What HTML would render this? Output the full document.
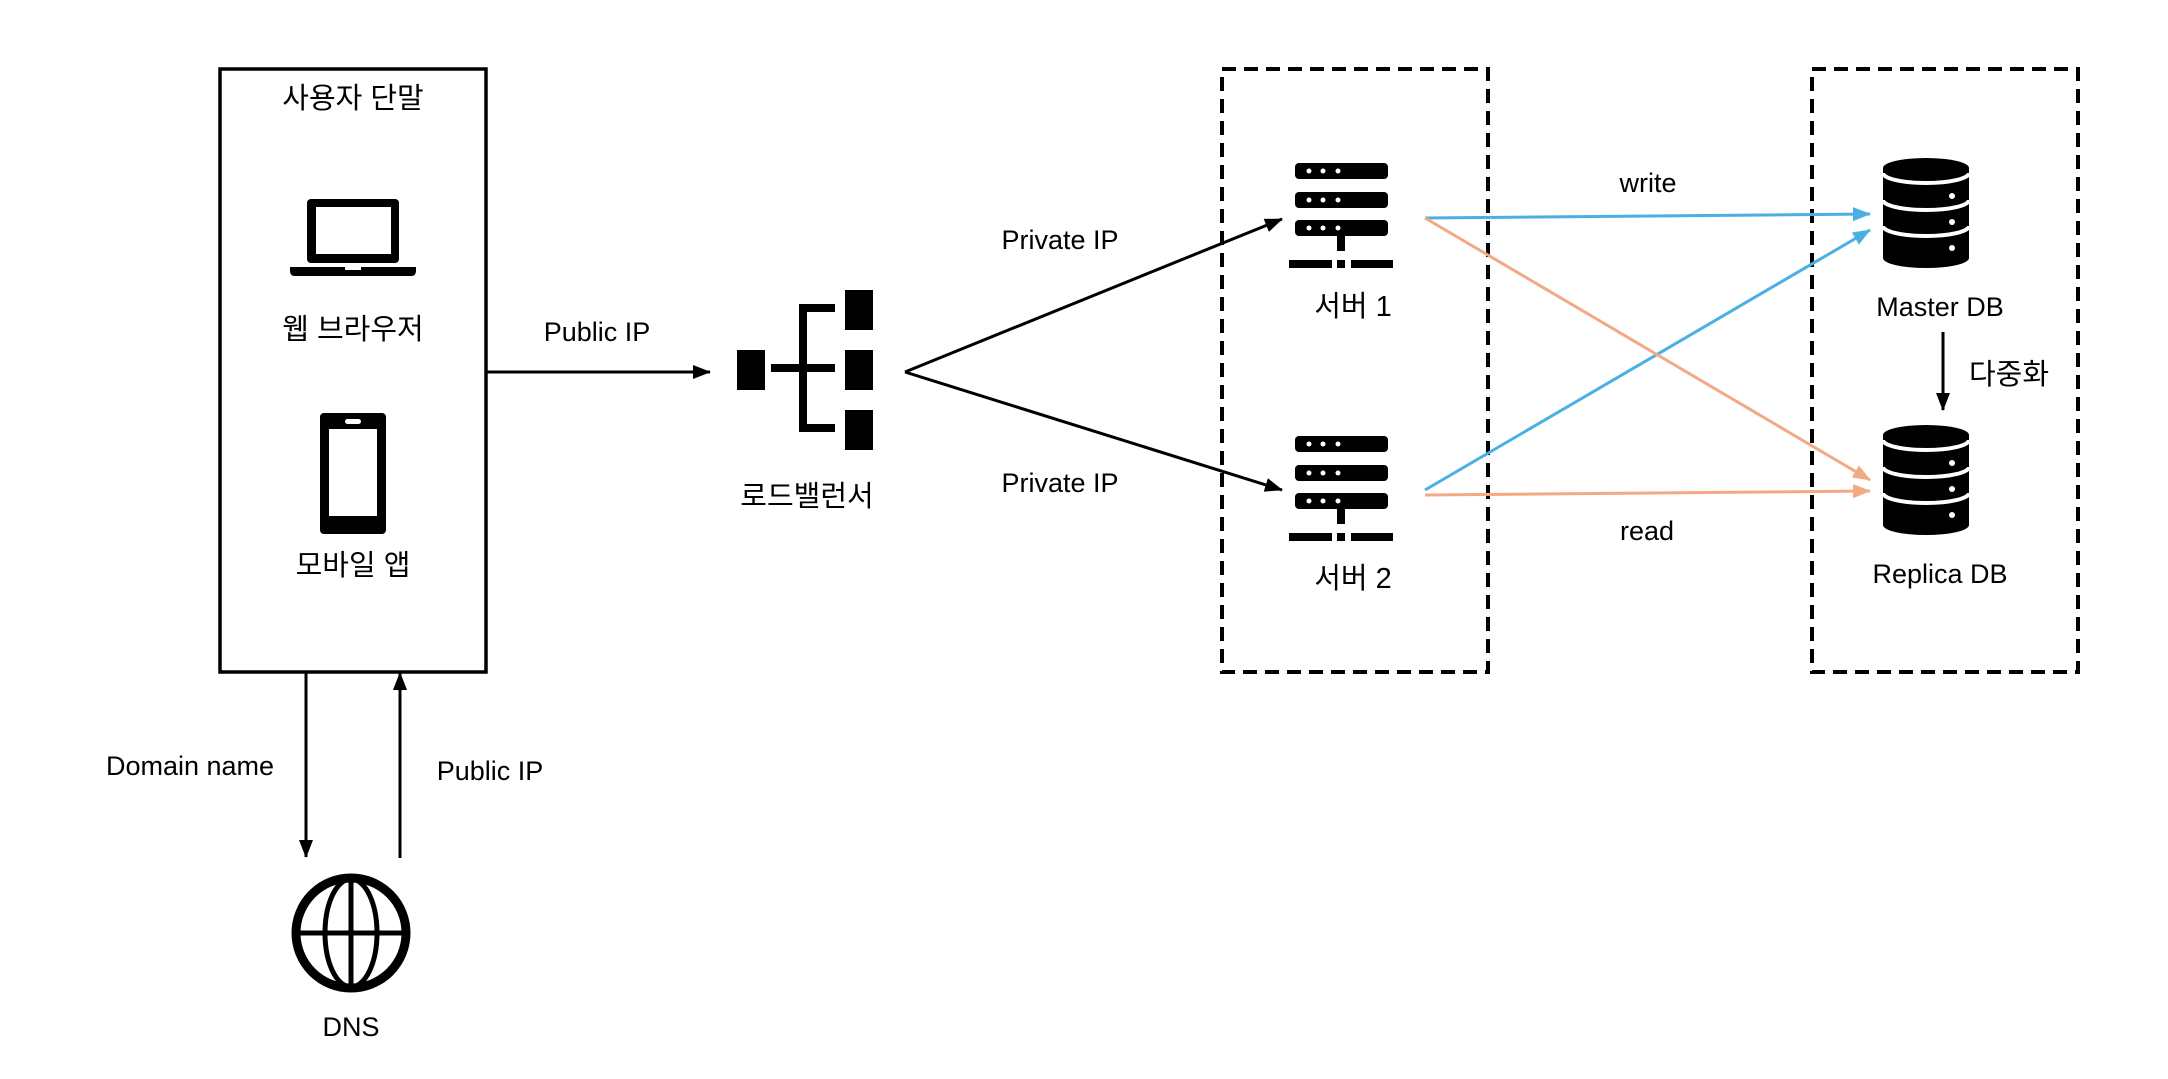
<!DOCTYPE html>
<html><head><meta charset="utf-8"><style>
html,body{margin:0;padding:0;background:#fff;}
svg{display:block;}
text{font-family:"Liberation Sans","Noto Sans CJK KR",sans-serif;font-size:27px;fill:#000;}
text.k{font-size:29px;}
</style></head><body>
<svg width="2168" height="1079" viewBox="0 0 2168 1079" xmlns="http://www.w3.org/2000/svg">
<defs>
<marker id="abk" markerWidth="18" markerHeight="14" refX="17" refY="7" orient="auto" markerUnits="userSpaceOnUse"><path d="M0,0 L18,7 L0,14 z" fill="#000"/></marker>
<marker id="abl" markerWidth="18" markerHeight="14" refX="17" refY="7" orient="auto" markerUnits="userSpaceOnUse"><path d="M0,0 L18,7 L0,14 z" fill="#4aafe2"/></marker>
<marker id="abo" markerWidth="18" markerHeight="14" refX="17" refY="7" orient="auto" markerUnits="userSpaceOnUse"><path d="M0,0 L18,7 L0,14 z" fill="#f2aa84"/></marker>
<g id="srv">
<rect x="1295" y="163" width="93" height="16" rx="4"/>
<rect x="1295" y="192" width="93" height="16" rx="4"/>
<rect x="1295" y="220" width="93" height="16" rx="4"/>
<g fill="#fff"><circle cx="1309" cy="171" r="2.5"/><circle cx="1323" cy="171" r="2.5"/><circle cx="1338" cy="171" r="2.5"/>
<circle cx="1309" cy="200" r="2.5"/><circle cx="1323" cy="200" r="2.5"/><circle cx="1338" cy="200" r="2.5"/>
<circle cx="1309" cy="228" r="2.5"/><circle cx="1323" cy="228" r="2.5"/><circle cx="1338" cy="228" r="2.5"/></g>
<rect x="1337" y="236" width="8" height="15"/>
<rect x="1289" y="260" width="43" height="8"/><rect x="1337" y="260" width="8" height="8"/><rect x="1351" y="260" width="42" height="8"/>
</g>
<g id="db">
<path d="M1883,168 A43,10 0 0 1 1969,168 L1969,258 A43,10 0 0 1 1883,258 Z"/>
<g fill="none" stroke="#fff" stroke-width="4">
<path d="M1883,173 A43,10 0 0 0 1969,173"/>
<path d="M1883,200 A43,10 0 0 0 1969,200"/>
<path d="M1883,226 A43,10 0 0 0 1969,226"/>
</g>
<g fill="#fff"><circle cx="1952" cy="196" r="3"/><circle cx="1952" cy="222" r="3"/><circle cx="1952" cy="248" r="3"/></g>
</g>
</defs>

<rect x="220" y="69" width="266" height="603" fill="none" stroke="#000" stroke-width="3.5"/>
<text class="k" x="353" y="108" text-anchor="middle">사용자 단말</text>
<rect x="307" y="199" width="92" height="64" rx="4"/>
<rect x="316" y="207" width="75" height="47" fill="#fff"/>
<path d="M290,267 L416,267 L416,271 Q416,276 411,276 L295,276 Q290,276 290,271 Z"/>
<rect x="345" y="267" width="16" height="3" fill="#fff"/>
<text class="k" x="353" y="339" text-anchor="middle">웹 브라우저</text>
<rect x="320" y="413" width="66" height="121" rx="4"/>
<rect x="329" y="429" width="48" height="87" fill="#fff"/>
<rect x="345" y="419" width="16" height="5" rx="2.5" fill="#fff"/>
<text class="k" x="353" y="575" text-anchor="middle">모바일 앱</text>

<line x1="486" y1="372" x2="710" y2="372" stroke="#000" stroke-width="3" marker-end="url(#abk)"/>
<text x="597" y="341" text-anchor="middle">Public IP</text>

<rect x="737" y="350" width="28" height="40"/>
<rect x="771" y="364" width="64" height="8"/>
<rect x="799" y="304" width="8" height="128"/>
<rect x="799" y="304" width="36" height="8"/>
<rect x="799" y="424" width="36" height="8"/>
<rect x="845" y="290" width="28" height="40"/>
<rect x="845" y="350" width="28" height="40"/>
<rect x="845" y="410" width="28" height="40"/>
<text class="k" x="807" y="506" text-anchor="middle">로드밸런서</text>

<line x1="905" y1="372" x2="1282" y2="219" stroke="#000" stroke-width="3" marker-end="url(#abk)"/>
<line x1="905" y1="372" x2="1282" y2="490" stroke="#000" stroke-width="3" marker-end="url(#abk)"/>
<text x="1060" y="249" text-anchor="middle">Private IP</text>
<text x="1060" y="492" text-anchor="middle">Private IP</text>

<rect x="1222" y="69" width="266" height="603" fill="none" stroke="#000" stroke-width="4" stroke-dasharray="14,8"/>
<use href="#srv"/>
<use href="#srv" transform="translate(0,273)"/>
<text class="k" x="1353" y="316" text-anchor="middle">서버 1</text>
<text class="k" x="1353" y="588" text-anchor="middle">서버 2</text>

<rect x="1812" y="69" width="266" height="603" fill="none" stroke="#000" stroke-width="4" stroke-dasharray="14,8"/>
<use href="#db"/>
<use href="#db" transform="translate(0,267)"/>
<text x="1940" y="316" text-anchor="middle">Master DB</text>
<text x="1940" y="583" text-anchor="middle">Replica DB</text>
<line x1="1943" y1="332" x2="1943" y2="410" stroke="#000" stroke-width="3" marker-end="url(#abk)"/>
<text class="k" x="2009" y="384" text-anchor="middle">다중화</text>

<line x1="1425" y1="218" x2="1870" y2="214" stroke="#4aafe2" stroke-width="3" marker-end="url(#abl)"/>
<line x1="1425" y1="490" x2="1870" y2="230" stroke="#4aafe2" stroke-width="3" marker-end="url(#abl)"/>
<line x1="1425" y1="218" x2="1870" y2="480" stroke="#f2aa84" stroke-width="3" marker-end="url(#abo)"/>
<line x1="1425" y1="495" x2="1870" y2="491" stroke="#f2aa84" stroke-width="3" marker-end="url(#abo)"/>
<text x="1648" y="192" text-anchor="middle">write</text>
<text x="1647" y="540" text-anchor="middle">read</text>

<line x1="306" y1="672" x2="306" y2="857" stroke="#000" stroke-width="3" marker-end="url(#abk)"/>
<line x1="400" y1="858" x2="400" y2="673" stroke="#000" stroke-width="3" marker-end="url(#abk)"/>
<text x="190" y="775" text-anchor="middle">Domain name</text>
<text x="490" y="780" text-anchor="middle">Public IP</text>

<g fill="none" stroke="#000">
<circle cx="351" cy="933" r="55" stroke-width="9"/>
<line x1="351" y1="878" x2="351" y2="988" stroke-width="5"/>
<line x1="296" y1="933" x2="406" y2="933" stroke-width="5"/>
<ellipse cx="351" cy="933" rx="26" ry="54" stroke-width="5"/>
</g>
<text x="351" y="1036" text-anchor="middle">DNS</text>
</svg>
</body></html>
